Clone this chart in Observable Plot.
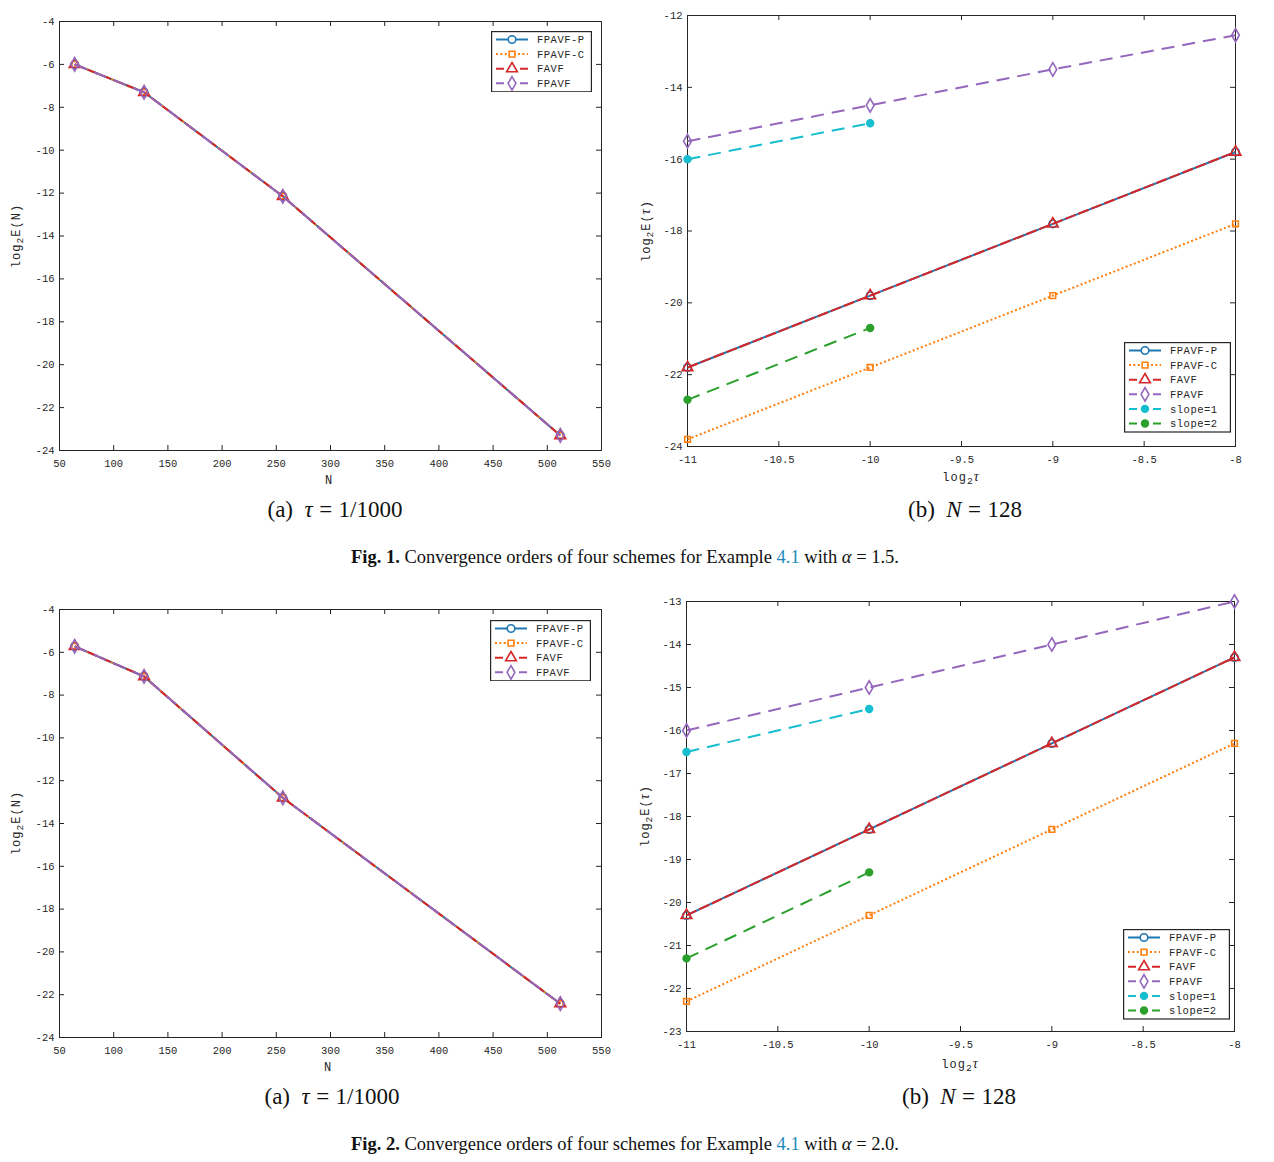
<!DOCTYPE html>
<html>
<head>
<meta charset="utf-8">
<script src="https://cdn.jsdelivr.net/npm/d3@7"></script>
<script src="https://cdn.jsdelivr.net/npm/@observablehq/plot@0.6"></script>
<style>
  html, body { margin: 0; padding: 0; background: #fff; }
  #page { position: relative; width: 1274px; height: 1162px; background: #fff; overflow: hidden; }
  .abs { position: absolute; }
  .mono { font-family: "Liberation Mono", "DejaVu Sans Mono", monospace; color: #262626; }
  .cap { font-family: "Liberation Serif", "DejaVu Serif", serif; font-size: 23px; color: #111; white-space: nowrap; transform: translate(-50%, -50%); }
  .cap .eq { margin: 0 0.28em; }
  .figcap { font-family: "Liberation Serif", "DejaVu Serif", serif; font-size: 18.5px; color: #111; white-space: nowrap; transform: translate(-50%, -50%); }
  .figcap .ref { color: #1d8bbd; }
  .ylab { font-size: 12px; letter-spacing: 1px; white-space: nowrap; transform: translate(-50%, -50%) rotate(-90deg); }
  .xlab { font-size: 12px; letter-spacing: 1px; white-space: nowrap; transform: translate(-50%, -50%); }
  sub { font-size: 0.8em; vertical-align: -0.35em; line-height: 0; }
  .tau { font-family: "Liberation Serif", serif; font-style: italic; font-size: 14px; }
</style>
</head>
<body>
<div id="page"></div>
<script>
// ---------------- DATA ----------------
const N_values = [64, 128, 256, 512];
const log2tau = [-11, -10, -9, -8];
const slopeX = [-11, -10];

// Fig. 1 (alpha = 1.5), panel (a): tau = 1/1000
const f1a_FPAVF_P = [-6.0, -7.3, -12.15, -23.3];
const f1a_FPAVF_C = [-6.0, -7.3, -12.15, -23.3];
const f1a_FAVF    = [-6.0, -7.3, -12.15, -23.3];
const f1a_FPAVF   = [-6.0, -7.3, -12.15, -23.3];
// Fig. 1 (alpha = 1.5), panel (b): N = 128
const f1b_FPAVF_P = [-21.8, -19.8, -17.8, -15.8];
const f1b_FPAVF_C = [-23.8, -21.8, -19.8, -17.8];
const f1b_FAVF    = [-21.8, -19.8, -17.8, -15.8];
const f1b_FPAVF   = [-15.5, -14.5, -13.5, -12.55];
const f1b_slope1  = [-16.0, -15.0];
const f1b_slope2  = [-22.7, -20.7];

// Fig. 2 (alpha = 2.0), panel (a): tau = 1/1000
const f2a_FPAVF_P = [-5.72, -7.13, -12.8, -22.42];
const f2a_FPAVF_C = [-5.72, -7.13, -12.8, -22.42];
const f2a_FAVF    = [-5.72, -7.13, -12.8, -22.42];
const f2a_FPAVF   = [-5.72, -7.13, -12.8, -22.42];
// Fig. 2 (alpha = 2.0), panel (b): N = 128
const f2b_FPAVF_P = [-20.3, -18.3, -16.3, -14.3];
const f2b_FPAVF_C = [-22.3, -20.3, -18.3, -16.3];
const f2b_FAVF    = [-20.3, -18.3, -16.3, -14.3];
const f2b_FPAVF   = [-16.0, -15.0, -14.0, -13.0];
const f2b_slope1  = [-16.5, -15.5];
const f2b_slope2  = [-21.3, -19.3];

// tick values
const xTicksN   = [50, 100, 150, 200, 250, 300, 350, 400, 450, 500, 550];
const yTicksA   = [-24, -22, -20, -18, -16, -14, -12, -10, -8, -6, -4];
const xTicksTau = [-11, -10.5, -10, -9.5, -9, -8.5, -8];
const yTicks1b  = [-24, -22, -20, -18, -16, -14, -12];
const yTicks2b  = [-23, -22, -21, -20, -19, -18, -17, -16, -15, -14, -13];

const seriesNames = ["FPAVF-P", "FPAVF-C", "FAVF", "FPAVF", "slope=1", "slope=2"];

// ---------------- STYLES ----------------
const STY = {
  "FPAVF-P": {color: "#1f77b4", dash: null, symbol: "circle", r: 3.8, fill: "none", sw: 2},
  "FPAVF-C": {color: "#ff7f0e", dash: "2,2.4", symbol: "square", r: 3.2, fill: "none", sw: 2},
  "FAVF":    {color: "#d62728", dash: "11,3", symbol: "triangle", r: 4.0, fill: "none", sw: 2},
  "FPAVF":   {color: "#9467bd", dash: "13,8", symbol: "diamond", r: 4.1, fill: "none", sw: 2},
  "slope=1": {color: "#17becf", dash: "13,8", symbol: "circle", r: 3.4, fill: "#17becf", sw: 2},
  "slope=2": {color: "#2ca02c", dash: "13,8", symbol: "circle", r: 3.4, fill: "#2ca02c", sw: 2}
};

const page = document.getElementById("page");
const MONO = "Liberation Mono, DejaVu Sans Mono, monospace";
const AX = "#262626";

function rows(xs, ys, name) { return xs.map((x, i) => ({x, y: ys[i], series: name})); }

function seriesMarks(data, name) {
  const s = STY[name];
  return [
    Plot.line(data, {x: "x", y: "y", stroke: s.color, strokeWidth: s.sw, strokeDasharray: s.dash, strokeLinecap: "butt"}),
    Plot.dot(data, {x: "x", y: "y", symbol: () => s.symbol, r: s.r, stroke: s.color, strokeWidth: 1.6, fill: s.fill === "none" ? "none" : s.fill})
  ];
}

function panel(cfg) {
  const {left, top, width, height, mt, mr, mb, ml, xDomain, yDomain, xTicks, yTicks, series} = cfg;
  const fh = height - mt - mb;
  const fw = width - ml - mr;
  const fmt = d => String(d);
  const marks = [
    Plot.frame({stroke: AX, strokeWidth: 1}),
    Plot.tickX(xTicks, {x: d => d, insetTop: fh - 5, stroke: AX}),
    Plot.tickX(xTicks, {x: d => d, insetBottom: fh - 5, stroke: AX}),
    Plot.tickY(yTicks, {y: d => d, insetRight: fw - 5, stroke: AX}),
    Plot.tickY(yTicks, {y: d => d, insetLeft: fw - 5, stroke: AX}),
    Plot.axisX(xTicks, {tickSize: 0, tickPadding: 9, tickFormat: fmt, label: null, fill: AX, fontFamily: MONO, fontSize: 10.5, letterSpacing: 1}),
    Plot.axisY(yTicks, {tickSize: 0, tickPadding: 5, tickFormat: fmt, label: null, fill: AX, fontFamily: MONO, fontSize: 10.5, letterSpacing: 1})
  ];
  for (const [name, data] of series) marks.push(...seriesMarks(data, name));
  const svg = Plot.plot({
    width, height,
    marginTop: mt, marginRight: mr, marginBottom: mb, marginLeft: ml,
    x: {domain: xDomain},
    y: {domain: yDomain},
    style: {background: "transparent", fontFamily: MONO, fontSize: "10px", overflow: "visible"},
    marks
  });
  svg.style.position = "absolute";
  svg.style.left = left + "px";
  svg.style.top = top + "px";
  page.appendChild(svg);
}

function legend(x, y, w, names) {
  const rowH = 14.6;
  const h = names.length * rowH + 3;
  const svg = d3.create("svg").attr("width", w).attr("height", h)
    .style("position", "absolute").style("left", x + "px").style("top", y + "px");
  svg.append("rect").attr("x", 0.6).attr("y", 0.6).attr("width", w - 1.2).attr("height", h - 1.2)
    .attr("fill", "#fff").attr("stroke", AX).attr("stroke-width", 1.2);
  const symMap = {circle: d3.symbolCircle, square: d3.symbolSquare, triangle: d3.symbolTriangle, diamond: d3.symbolDiamond};
  names.forEach((name, i) => {
    const s = STY[name];
    const cy = 8.5 + i * rowH;
    const g = svg.append("g");
    g.append("line").attr("x1", 5).attr("x2", 37).attr("y1", cy).attr("y2", cy)
      .attr("stroke", s.color).attr("stroke-width", 2)
      .attr("stroke-dasharray", s.dash ? (name === "FPAVF-C" ? "2,2.4" : "8,4") : null);
    g.append("path").attr("transform", `translate(21,${cy})`)
      .attr("d", d3.symbol(symMap[s.symbol], Math.PI * s.r * s.r)())
      .attr("fill", s.fill === "none" ? "#fff" : s.fill).attr("stroke", s.color).attr("stroke-width", 1.6);
    g.append("text").attr("x", 46).attr("y", cy).attr("dy", "0.36em")
      .attr("font-family", MONO).attr("font-size", 10.5).attr("letter-spacing", 0.5).attr("fill", AX).text(name);
  });
  page.appendChild(svg.node());
}

function html(cls, x, y, content) {
  const d = document.createElement("div");
  d.className = "abs " + cls;
  d.style.left = x + "px";
  d.style.top = y + "px";
  d.innerHTML = content;
  page.appendChild(d);
}

const S4 = ["FPAVF-P", "FPAVF-C", "FAVF", "FPAVF"];

// ---------------- FIG 1 ----------------
panel({
  left: 0, top: 0, width: 620, height: 490, mt: 21, mr: 19, mb: 40, ml: 59,
  xDomain: [50, 550], yDomain: [-24, -4], xTicks: xTicksN, yTicks: yTicksA,
  series: [
    ["FPAVF-P", rows(N_values, f1a_FPAVF_P, "FPAVF-P")],
    ["FPAVF-C", rows(N_values, f1a_FPAVF_C, "FPAVF-C")],
    ["FAVF", rows(N_values, f1a_FAVF, "FAVF")],
    ["FPAVF", rows(N_values, f1a_FPAVF, "FPAVF")]
  ]
});
legend(491, 31, 101, S4);
html("mono ylab", 17, 236, "log<sub>2</sub>E(N)");
html("mono xlab", 329, 481, "N");
html("cap", 335, 510, "(a)&nbsp; <i>τ</i><span class='eq'>=</span>1/1000");

panel({
  left: 630, top: 0, width: 644, height: 490, mt: 15, mr: 39, mb: 44, ml: 57,
  xDomain: [-11, -8], yDomain: [-24, -12], xTicks: xTicksTau, yTicks: yTicks1b,
  series: [
    ["FPAVF-P", rows(log2tau, f1b_FPAVF_P, "FPAVF-P")],
    ["FPAVF-C", rows(log2tau, f1b_FPAVF_C, "FPAVF-C")],
    ["FAVF", rows(log2tau, f1b_FAVF, "FAVF")],
    ["FPAVF", rows(log2tau, f1b_FPAVF, "FPAVF")],
    ["slope=1", rows(slopeX, f1b_slope1, "slope=1")],
    ["slope=2", rows(slopeX, f1b_slope2, "slope=2")]
  ]
});
legend(1124, 342, 107, seriesNames);
html("mono ylab", 646, 231, "log<sub>2</sub>E(<span class='tau'>τ</span>)");
html("mono xlab", 961, 477, "log<sub>2</sub><span class='tau'>τ</span>");
html("cap", 965, 510, "(b)&nbsp; <i>N</i><span class='eq'>=</span>128");

html("figcap", 625, 557, "<b>Fig. 1.</b> Convergence orders of four schemes for Example <span class='ref'>4.1</span> with <i>α</i> = 1.5.");

// ---------------- FIG 2 ----------------
panel({
  left: 0, top: 590, width: 620, height: 490, mt: 19, mr: 19, mb: 43, ml: 59,
  xDomain: [50, 550], yDomain: [-24, -4], xTicks: xTicksN, yTicks: yTicksA,
  series: [
    ["FPAVF-P", rows(N_values, f2a_FPAVF_P, "FPAVF-P")],
    ["FPAVF-C", rows(N_values, f2a_FPAVF_C, "FPAVF-C")],
    ["FAVF", rows(N_values, f2a_FAVF, "FAVF")],
    ["FPAVF", rows(N_values, f2a_FPAVF, "FPAVF")]
  ]
});
legend(490, 620, 101, S4);
html("mono ylab", 17, 823, "log<sub>2</sub>E(N)");
html("mono xlab", 328, 1068, "N");
html("cap", 332, 1097, "(a)&nbsp; <i>τ</i><span class='eq'>=</span>1/1000");

panel({
  left: 630, top: 590, width: 644, height: 490, mt: 11, mr: 40, mb: 49, ml: 56,
  xDomain: [-11, -8], yDomain: [-23, -13], xTicks: xTicksTau, yTicks: yTicks2b,
  series: [
    ["FPAVF-P", rows(log2tau, f2b_FPAVF_P, "FPAVF-P")],
    ["FPAVF-C", rows(log2tau, f2b_FPAVF_C, "FPAVF-C")],
    ["FAVF", rows(log2tau, f2b_FAVF, "FAVF")],
    ["FPAVF", rows(log2tau, f2b_FPAVF, "FPAVF")],
    ["slope=1", rows(slopeX, f2b_slope1, "slope=1")],
    ["slope=2", rows(slopeX, f2b_slope2, "slope=2")]
  ]
});
legend(1123, 929, 107, seriesNames);
html("mono ylab", 645, 816, "log<sub>2</sub>E(<span class='tau'>τ</span>)");
html("mono xlab", 960, 1064, "log<sub>2</sub><span class='tau'>τ</span>");
html("cap", 959, 1097, "(b)&nbsp; <i>N</i><span class='eq'>=</span>128");

html("figcap", 625, 1144, "<b>Fig. 2.</b> Convergence orders of four schemes for Example <span class='ref'>4.1</span> with <i>α</i> = 2.0.");
</script>
</body>
</html>
